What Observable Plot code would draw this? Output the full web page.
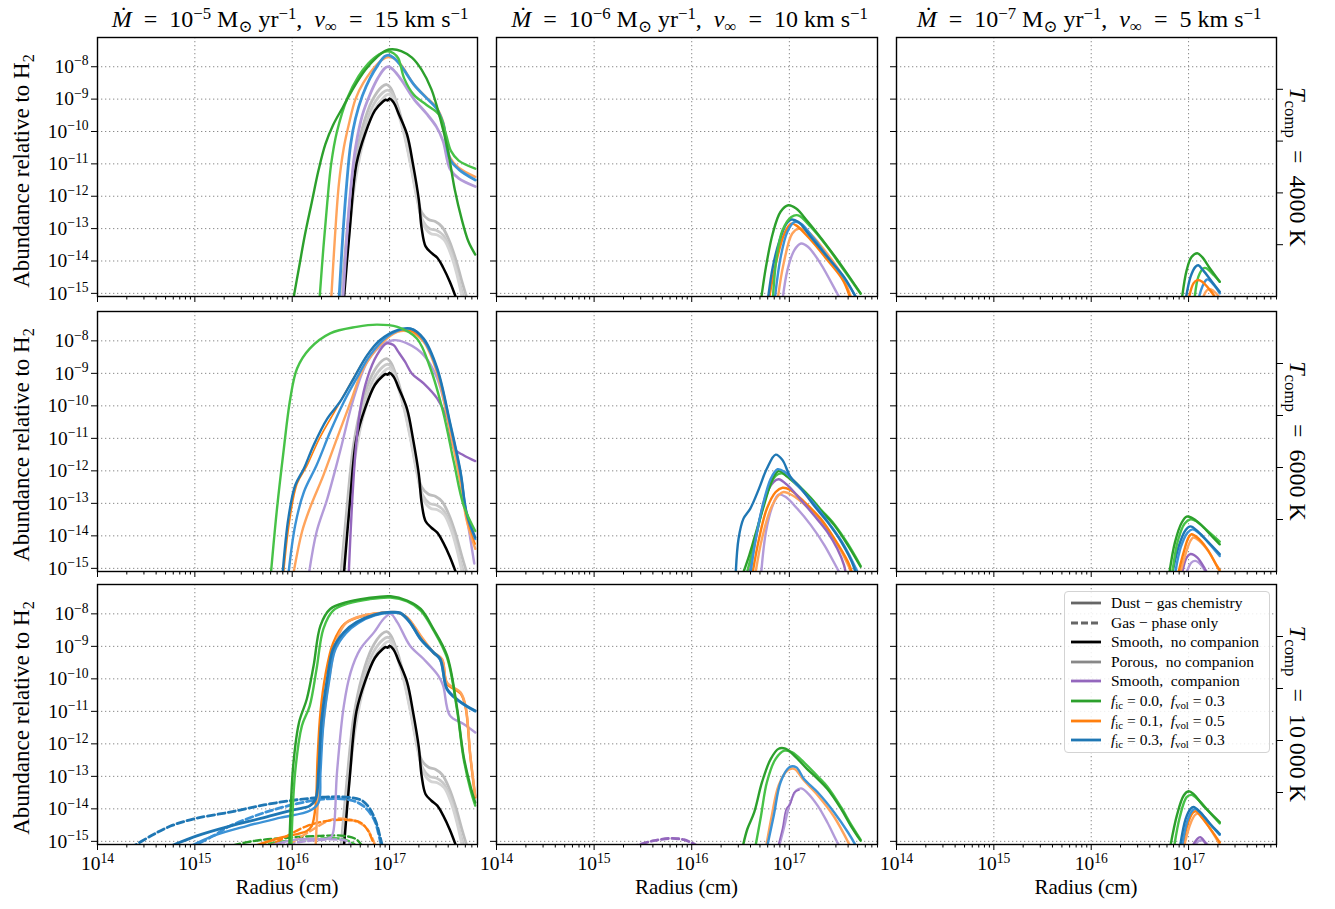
<!DOCTYPE html>
<html><head><meta charset="utf-8">
<script src="https://cdn.jsdelivr.net/npm/d3@7"></script>
<script src="https://cdn.jsdelivr.net/npm/@observablehq/plot@0.6"></script>
<style>
html,body{margin:0;padding:0;background:#fff;}
#fig{position:relative;width:1335px;height:909px;overflow:hidden;font-family:"Liberation Serif","DejaVu Serif",serif;color:#000;}
#fig svg{position:absolute;overflow:visible;}
#fig svg text.tk{font-size:19.5px !important;}
#fig svg tspan.tke{font-size:13.6px !important;}
.lab{position:absolute;white-space:nowrap;line-height:1;}
.rot{transform:translate(-50%,-50%) rotate(-90deg);}
.rotr{transform:translate(-50%,-50%) rotate(90deg);}
.ctr{transform:translate(-50%,-50%);}
sup,sub{font-size:70%;line-height:0;position:relative;vertical-align:baseline;}
sup{top:-0.5em;} sub{top:0.3em;}
#legend{position:absolute;left:1064px;top:591px;width:204px;height:160px;border:1px solid #d3d3d3;border-radius:4px;background:rgba(255,255,255,0.85);font-size:15.5px;z-index:5;}
#legend .row{position:absolute;left:0;height:18px;line-height:18px;}
#legend svg{position:absolute;left:5px;top:0;}
#legend span{position:absolute;left:46px;top:0;white-space:nowrap;}
</style></head><body><div id="fig"></div><script>
// ---------- data: [log10 radius (cm), log10 abundance] ----------
const xMajor = [1e14, 1e15, 1e16, 1e17];
const yMajor = [1e-8, 1e-9, 1e-10, 1e-11, 1e-12, 1e-13, 1e-14, 1e-15];
const colTitles = [["5","15"],["6","10"],["7","5"]];
const rowTemps = ["4000", "6000", "10&thinsp;000"];

// no-companion models (identical in each row of column 1)
const black = [[16.53,-15.2],[16.59,-13.06],[16.66,-11.0],[16.75,-10.06],[16.85,-9.35],[16.93,-9.08],[16.96,-9.02],[16.98,-9.04],[17.0,-8.99],[17.04,-9.1],[17.10,-9.5],[17.18,-10.1],[17.24,-11.0],[17.30,-12.1],[17.33,-13.0],[17.37,-13.55],[17.43,-13.75],[17.49,-13.9],[17.55,-14.2],[17.62,-14.65],[17.69,-15.2]];
const grey1 = [[16.50,-15.2],[16.56,-13.2],[16.63,-11.2],[16.72,-9.9],[16.82,-9.05],[16.92,-8.62],[16.97,-8.55],[17.01,-8.65],[17.06,-9.0],[17.13,-9.7],[17.20,-10.7],[17.27,-11.8],[17.33,-12.5],[17.40,-12.72],[17.47,-12.78],[17.54,-12.95],[17.61,-13.35],[17.68,-13.95],[17.74,-14.6],[17.80,-15.2]];
const grey2 = [[16.51,-15.2],[16.57,-13.3],[16.64,-11.4],[16.73,-10.05],[16.83,-9.2],[16.93,-8.8],[16.98,-8.72],[17.02,-8.8],[17.07,-9.2],[17.14,-9.9],[17.21,-10.9],[17.28,-12.0],[17.34,-12.75],[17.41,-13.0],[17.48,-13.05],[17.55,-13.2],[17.62,-13.6],[17.68,-14.2],[17.73,-14.8],[17.77,-15.2]];
const grey3 = [[16.52,-15.2],[16.58,-13.3],[16.65,-11.5],[16.74,-10.2],[16.84,-9.35],[16.94,-8.95],[16.99,-8.85],[17.03,-8.95],[17.08,-9.35],[17.15,-10.1],[17.22,-11.1],[17.29,-12.2],[17.35,-12.9],[17.42,-13.15],[17.49,-13.2],[17.56,-13.35],[17.63,-13.8],[17.69,-14.4],[17.75,-15.2]];

// row 1 (T = 4000 K)
const a11_gD = [[16.01,-15.2],[16.07,-14.2],[16.13,-13.2],[16.20,-12.2],[16.27,-11.2],[16.34,-10.4],[16.42,-9.8],[16.52,-9.25],[16.63,-8.65],[16.75,-8.1],[16.87,-7.7],[16.96,-7.5],[17.03,-7.46],[17.12,-7.52],[17.23,-7.72],[17.33,-8.1],[17.43,-8.7],[17.52,-9.6],[17.60,-10.6],[17.67,-11.8],[17.74,-12.7],[17.81,-13.4],[17.88,-13.8]];
const a11_gL = [[16.28,-15.2],[16.32,-13.6],[16.36,-12.2],[16.40,-11.0],[16.46,-10.0],[16.57,-8.94],[16.68,-8.3],[16.78,-7.9],[16.89,-7.62],[16.98,-7.52],[17.04,-7.58],[17.09,-7.74],[17.15,-8.36],[17.25,-8.87],[17.38,-9.18],[17.51,-9.49],[17.58,-10.1],[17.63,-10.6],[17.71,-10.9],[17.88,-11.15]];
const a11_oL = [[16.40,-15.2],[16.44,-13.2],[16.48,-11.6],[16.53,-10.5],[16.58,-9.8],[16.65,-9.0],[16.73,-8.5],[16.88,-7.9],[16.96,-7.72],[17.0,-7.7],[17.05,-7.75],[17.12,-7.95],[17.25,-8.55],[17.38,-8.95],[17.48,-9.25],[17.55,-9.7],[17.62,-10.8],[17.71,-11.12],[17.88,-11.4]];
const a11_bL = [[16.48,-15.2],[16.52,-13.2],[16.56,-11.6],[16.60,-10.4],[16.65,-9.6],[16.72,-8.9],[16.80,-8.35],[16.88,-7.95],[16.95,-7.68],[16.99,-7.64],[17.04,-7.72],[17.12,-7.98],[17.25,-8.55],[17.38,-8.97],[17.48,-9.28],[17.55,-9.75],[17.62,-10.85],[17.71,-11.17],[17.88,-11.5]];
const a11_pL = [[16.52,-15.2],[16.56,-13.3],[16.60,-11.8],[16.65,-10.5],[16.72,-9.5],[16.80,-8.85],[16.88,-8.35],[16.95,-8.05],[16.99,-8.0],[17.04,-8.1],[17.12,-8.4],[17.25,-9.0],[17.38,-9.45],[17.48,-9.85],[17.55,-10.3],[17.62,-11.15],[17.71,-11.45],[17.88,-11.7]];

const a12_gD = [[16.71,-15.2],[16.76,-14.19],[16.83,-13.15],[16.91,-12.48],[16.99,-12.28],[17.07,-12.38],[17.19,-12.79],[17.39,-13.55],[17.56,-14.25],[17.73,-15.0]];
const a12_gL = [[16.83,-15.2],[16.87,-13.88],[16.93,-13.05],[17.02,-12.64],[17.09,-12.59],[17.22,-12.95],[17.39,-13.57],[17.56,-14.29],[17.73,-15.01]];
const a12_bD = [[16.78,-15.2],[16.83,-14.19],[16.90,-13.36],[16.97,-12.85],[17.02,-12.72],[17.09,-12.79],[17.22,-13.26],[17.39,-13.88],[17.56,-14.49],[17.68,-15.11]];
const a12_bL = [[16.85,-15.2],[16.91,-13.9],[16.98,-13.1],[17.05,-12.8],[17.12,-12.85],[17.25,-13.3],[17.40,-13.9],[17.56,-14.52],[17.69,-15.15]];
const a12_oD = [[16.79,-15.2],[16.86,-14.1],[16.95,-13.15],[17.02,-12.85],[17.07,-12.9],[17.22,-13.35],[17.39,-13.97],[17.55,-14.6],[17.63,-15.2]];
const a12_oL = [[16.88,-15.2],[16.94,-14.1],[17.03,-13.15],[17.10,-13.0],[17.19,-13.1],[17.36,-13.67],[17.53,-14.39],[17.63,-15.1]];
const a12_pL = [[16.93,-15.2],[16.98,-14.29],[17.05,-13.67],[17.12,-13.46],[17.19,-13.56],[17.32,-14.08],[17.51,-15.11],[17.53,-15.2]];

const a13_gD = [[16.93,-15.2],[16.98,-14.29],[17.03,-13.88],[17.09,-13.76],[17.14,-13.88],[17.22,-14.23],[17.32,-14.64]];
const a13_bD = [[16.97,-15.2],[17.02,-14.49],[17.07,-14.18],[17.10,-14.13],[17.15,-14.29],[17.24,-14.64],[17.32,-14.95]];
const a13_oD = [[17.0,-15.2],[17.05,-14.69],[17.09,-14.59],[17.14,-14.64],[17.22,-14.9],[17.29,-15.2]];
const a13_gL = [[17.06,-15.2],[17.10,-14.49],[17.15,-14.23],[17.18,-14.22],[17.26,-14.44],[17.32,-14.64]];
const a13_bL = [[17.10,-15.2],[17.14,-14.8],[17.19,-14.57],[17.26,-14.74],[17.32,-15.0]];
const a13_oL = [[17.14,-15.2],[17.19,-14.9],[17.23,-14.88],[17.31,-15.1],[17.32,-15.2]];

// row 2 (T = 6000 K)
const a21_gL = [[15.78,-15.2],[15.84,-13.27],[15.91,-11.42],[15.98,-9.78],[16.05,-8.85],[16.18,-8.24],[16.39,-7.77],[16.66,-7.57],[16.87,-7.5],[17.08,-7.57],[17.28,-7.93],[17.42,-8.85],[17.55,-10.19],[17.66,-11.73],[17.76,-13.06],[17.88,-13.85]];
const a21_bD = [[15.90,-15.2],[15.96,-13.47],[16.03,-12.45],[16.12,-11.93],[16.22,-11.21],[16.36,-10.39],[16.49,-9.88],[16.63,-9.16],[16.77,-8.44],[16.90,-7.98],[17.08,-7.67],[17.21,-7.62],[17.35,-7.93],[17.49,-8.85],[17.62,-10.5],[17.73,-12.04],[17.79,-13.27],[17.88,-14.05]];
const a21_bL = [[15.96,-15.2],[16.03,-13.68],[16.12,-12.65],[16.25,-11.83],[16.39,-10.8],[16.53,-9.88],[16.66,-9.16],[16.80,-8.44],[16.97,-7.88],[17.14,-7.64],[17.25,-7.66],[17.35,-7.97],[17.49,-8.9],[17.62,-10.55],[17.73,-12.1],[17.79,-13.3],[17.88,-14.1]];
const a21_oD = [[15.91,-15.2],[15.97,-13.6],[16.05,-12.4],[16.15,-11.85],[16.28,-11.0],[16.45,-10.1],[16.60,-9.3],[16.77,-8.45],[16.92,-7.95],[17.08,-7.7],[17.21,-7.68],[17.35,-8.0],[17.49,-8.95],[17.62,-10.6],[17.73,-12.2],[17.79,-13.4],[17.88,-14.25]];
const a21_oL = [[16.01,-15.2],[16.10,-13.88],[16.18,-13.16],[16.32,-12.14],[16.46,-11.0],[16.60,-9.88],[16.73,-8.85],[16.90,-8.13],[17.08,-7.72],[17.21,-7.72],[17.35,-8.03],[17.49,-9.0],[17.62,-10.75],[17.73,-12.4],[17.79,-13.5],[17.88,-14.4]];
const a21_pL = [[16.17,-15.2],[16.25,-13.88],[16.36,-12.86],[16.49,-11.42],[16.63,-9.78],[16.77,-8.65],[16.90,-8.18],[17.04,-7.98],[17.18,-8.08],[17.35,-8.44],[17.49,-9.16],[17.62,-10.7],[17.76,-12.86],[17.87,-14.85]];
const a21_pD = [[16.58,-15.2],[16.61,-13.27],[16.65,-11.42],[16.70,-10.08],[16.77,-9.16],[16.87,-8.44],[16.97,-8.08],[17.04,-8.13],[17.09,-8.34],[17.16,-8.65],[17.23,-9.01],[17.35,-9.31],[17.49,-9.78],[17.59,-10.39],[17.66,-11.32],[17.76,-11.52],[17.88,-11.7]];

const a22_bD = [[16.45,-15.2],[16.48,-14.08],[16.53,-13.47],[16.60,-13.16],[16.69,-12.54],[16.77,-11.93],[16.86,-11.5],[16.93,-11.67],[17.01,-12.18],[17.12,-12.54],[17.25,-13.06],[17.39,-13.57],[17.53,-14.18],[17.66,-14.95],[17.68,-15.2]];
const a22_bL = [[16.60,-15.2],[16.65,-14.18],[16.72,-13.16],[16.81,-12.24],[16.88,-11.95],[16.95,-12.03],[17.08,-12.44],[17.25,-13.0],[17.42,-13.67],[17.56,-14.29],[17.69,-15.06],[17.71,-15.2]];
const a22_gD = [[16.52,-15.2],[16.59,-14.59],[16.65,-13.98],[16.74,-13.06],[16.83,-12.24],[16.89,-12.01],[16.98,-12.18],[17.08,-12.44],[17.22,-12.85],[17.32,-13.21],[17.46,-13.67],[17.60,-14.29],[17.73,-14.95]];
const a22_gL = [[16.56,-15.2],[16.62,-14.5],[16.69,-13.6],[16.77,-12.7],[16.86,-12.15],[16.93,-12.08],[17.0,-12.2],[17.10,-12.46],[17.22,-12.83],[17.32,-13.18],[17.46,-13.64],[17.60,-14.25],[17.73,-14.92]];
const a22_pD = [[16.59,-15.2],[16.67,-13.88],[16.76,-12.75],[16.84,-12.34],[16.89,-12.26],[16.98,-12.44],[17.12,-12.9],[17.25,-13.36],[17.39,-13.88],[17.49,-14.39],[17.56,-14.9],[17.58,-15.2]];
const a22_oD = [[16.62,-15.2],[16.69,-14.08],[16.77,-13.16],[16.86,-12.65],[16.93,-12.52],[17.01,-12.59],[17.15,-12.95],[17.32,-13.47],[17.46,-14.08],[17.60,-14.8],[17.65,-15.2]];
const a22_oL = [[16.65,-15.2],[16.72,-14.08],[16.81,-13.16],[16.89,-12.75],[16.94,-12.65],[17.03,-12.75],[17.18,-13.1],[17.34,-13.6],[17.48,-14.2],[17.61,-14.95],[17.64,-15.2]];
const a22_pL = [[16.71,-15.2],[16.76,-13.88],[16.83,-13.06],[16.89,-12.73],[16.96,-12.8],[17.08,-13.16],[17.22,-13.67],[17.36,-14.29],[17.51,-15.11],[17.53,-15.2]];

const a23_gD = [[16.80,-15.2],[16.86,-14.2],[16.93,-13.59],[16.98,-13.41],[17.03,-13.44],[17.12,-13.64],[17.22,-13.95],[17.32,-14.26]];
const a23_gL = [[16.83,-15.2],[16.89,-14.15],[16.96,-13.62],[17.02,-13.49],[17.08,-13.55],[17.17,-13.78],[17.32,-14.18]];
const a23_bD = [[16.83,-15.2],[16.90,-14.31],[16.97,-13.82],[17.02,-13.71],[17.09,-13.85],[17.19,-14.15],[17.32,-14.56]];
const a23_bL = [[16.86,-15.2],[16.92,-14.35],[16.99,-13.9],[17.04,-13.8],[17.10,-13.9],[17.20,-14.2],[17.32,-14.62]];
const a23_oD = [[16.89,-15.2],[16.95,-14.5],[17.0,-14.05],[17.03,-13.95],[17.09,-14.05],[17.19,-14.4],[17.29,-14.92],[17.32,-15.05]];
const a23_oL = [[16.91,-15.2],[16.97,-14.55],[17.02,-14.15],[17.05,-14.05],[17.11,-14.15],[17.21,-14.5],[17.32,-15.1]];
const a23_pD = [[16.93,-15.2],[16.98,-14.67],[17.02,-14.56],[17.09,-14.67],[17.17,-15.03],[17.20,-15.2]];
const a23_pL = [[16.97,-15.2],[17.03,-14.82],[17.07,-14.77],[17.13,-14.9],[17.19,-15.2]];

// row 3 (T = 10 000 K)
const a31_gD = [[15.97,-15.2],[16.01,-12.68],[16.07,-11.34],[16.15,-10.62],[16.22,-9.59],[16.29,-8.36],[16.39,-7.85],[16.56,-7.64],[16.77,-7.52],[17.01,-7.46],[17.18,-7.59],[17.32,-7.85],[17.45,-8.46],[17.59,-9.28],[17.69,-10.83],[17.76,-12.37],[17.83,-13.29],[17.88,-13.81]];
const a31_gL = [[15.99,-15.2],[16.03,-12.88],[16.10,-11.44],[16.18,-10.83],[16.25,-9.7],[16.32,-8.46],[16.42,-7.9],[16.58,-7.68],[16.79,-7.55],[17.01,-7.5],[17.18,-7.62],[17.32,-7.9],[17.45,-8.5],[17.59,-9.35],[17.69,-10.9],[17.76,-12.45],[17.83,-13.4],[17.88,-13.9]];
const a31_oL = [[16.24,-15.2],[16.28,-12.88],[16.32,-11.34],[16.39,-9.8],[16.46,-8.77],[16.56,-8.26],[16.73,-8.05],[16.90,-7.97],[17.08,-7.95],[17.18,-8.1],[17.32,-8.67],[17.45,-9.18],[17.54,-9.39],[17.59,-10.11],[17.73,-10.42],[17.78,-10.83],[17.83,-12.37],[17.88,-13.6]];
const a31_oD = [[15.55,-15.2],[15.88,-14.89],[16.15,-14.68],[16.20,-14.53],[16.24,-13.91],[16.26,-12.47],[16.29,-11.03],[16.34,-9.9],[16.42,-8.9],[16.54,-8.3],[16.73,-8.06],[16.90,-7.98],[17.08,-7.96],[17.18,-8.12],[17.32,-8.7],[17.45,-9.2],[17.54,-9.42],[17.59,-10.15],[17.73,-10.45],[17.78,-10.87],[17.83,-12.4],[17.88,-13.65]];
const a31_bD = [[14.71,-15.2],[15.02,-14.83],[15.36,-14.53],[15.71,-14.27],[16.01,-14.03],[16.18,-13.91],[16.24,-13.7],[16.27,-12.88],[16.30,-11.34],[16.36,-10.0],[16.42,-9.08],[16.53,-8.57],[16.66,-8.26],[16.84,-8.03],[17.01,-7.95],[17.11,-7.97],[17.21,-8.26],[17.32,-8.77],[17.45,-9.18],[17.52,-9.39],[17.59,-10.31],[17.69,-10.62],[17.79,-10.83],[17.88,-10.98]];
const a31_bL = [[14.92,-15.2],[15.19,-14.83],[15.53,-14.53],[15.88,-14.27],[16.18,-14.06],[16.27,-13.81],[16.29,-12.9],[16.32,-11.4],[16.38,-10.05],[16.44,-9.12],[16.55,-8.6],[16.68,-8.28],[16.85,-8.05],[17.01,-7.97],[17.11,-7.99],[17.21,-8.28],[17.32,-8.8],[17.45,-9.2],[17.52,-9.42],[17.59,-10.33],[17.69,-10.64],[17.79,-10.85],[17.88,-11.0]];
const a31_pL = [[15.69,-15.2],[16.05,-14.94],[16.39,-14.89],[16.42,-14.73],[16.46,-12.88],[16.53,-10.83],[16.60,-9.8],[16.70,-9.08],[16.84,-8.57],[16.94,-8.15],[17.01,-8.0],[17.08,-8.26],[17.21,-8.98],[17.35,-9.39],[17.50,-9.9],[17.55,-10.21],[17.62,-11.13],[17.76,-11.39],[17.88,-11.65]];
const a31_bD_gas = [[14.34,-15.2],[14.55,-14.83],[14.75,-14.53],[15.0,-14.3],[15.36,-14.1],[15.71,-13.88],[16.05,-13.72],[16.39,-13.63],[16.60,-13.65],[16.72,-13.75],[16.80,-14.01],[16.86,-14.4],[16.90,-14.83],[16.93,-15.2]];
const a31_bL_gas = [[14.95,-15.2],[15.19,-14.83],[15.36,-14.53],[15.71,-14.12],[16.05,-13.84],[16.32,-13.7],[16.60,-13.73],[16.73,-13.91],[16.84,-14.32],[16.90,-14.94],[16.92,-15.2]];
const a31_oD_gas = [[15.74,-15.2],[15.95,-14.83],[16.15,-14.53],[16.36,-14.37],[16.56,-14.34],[16.70,-14.42],[16.78,-14.68],[16.85,-15.2]];
const a31_oL_gas = [[15.91,-15.2],[16.15,-14.75],[16.42,-14.32],[16.62,-14.35],[16.75,-14.55],[16.83,-14.95],[16.86,-15.2]];
const a31_gD_gas = [[15.29,-15.2],[15.60,-14.99],[15.95,-14.89],[16.29,-14.83],[16.53,-14.83],[16.66,-14.94],[16.73,-15.2]];
const a31_gL_gas = [[15.55,-15.2],[15.90,-15.0],[16.25,-14.92],[16.50,-14.92],[16.62,-15.05],[16.68,-15.2]];
const a31_pL_gas = [[15.74,-15.2],[16.08,-15.02],[16.42,-14.94],[16.56,-14.99],[16.63,-15.2]];

const a32_gD = [[16.52,-15.2],[16.57,-14.62],[16.64,-14.11],[16.72,-13.18],[16.81,-12.46],[16.89,-12.15],[16.96,-12.15],[17.05,-12.36],[17.18,-12.77],[17.29,-13.08],[17.39,-13.39],[17.53,-14.0],[17.63,-14.52],[17.73,-14.98]];
const a32_gL = [[16.65,-15.2],[16.71,-14.21],[16.77,-13.18],[16.86,-12.46],[16.95,-12.21],[17.03,-12.26],[17.15,-12.57],[17.29,-13.0],[17.39,-13.32],[17.53,-13.95],[17.63,-14.47],[17.73,-14.95]];
const a32_bL = [[16.77,-15.2],[16.84,-14.21],[16.91,-13.18],[17.0,-12.72],[17.07,-12.72],[17.15,-13.08],[17.29,-13.49],[17.46,-14.11],[17.60,-14.72],[17.68,-15.13],[17.69,-15.2]];
const a32_oL = [[16.76,-15.2],[16.82,-14.21],[16.89,-13.28],[16.98,-12.82],[17.05,-12.77],[17.15,-13.13],[17.29,-13.58],[17.46,-14.25],[17.63,-15.19]];
const a32_pL = [[16.89,-15.2],[16.95,-14.52],[16.98,-14.11],[17.01,-13.8],[17.07,-13.44],[17.12,-13.37],[17.18,-13.49],[17.29,-13.9],[17.39,-14.42],[17.51,-15.13],[17.53,-15.2]];
const a32_pD = [[16.88,-15.2],[16.93,-14.6],[16.97,-14.0],[17.01,-13.85],[17.05,-13.5],[17.10,-13.42]];
const a32_pD_gas = [[15.38,-15.2],[15.44,-15.12],[15.61,-14.98],[15.78,-14.91],[15.92,-14.95],[16.05,-15.13],[16.08,-15.2]];

const a33_gD = [[16.81,-15.2],[16.88,-14.2],[16.95,-13.59],[17.0,-13.46],[17.05,-13.54],[17.15,-13.9],[17.32,-14.41]];
const a33_gL = [[16.85,-15.2],[16.91,-14.25],[16.98,-13.64],[17.03,-13.57],[17.10,-13.72],[17.20,-14.05],[17.32,-14.45]];
const a33_bD = [[16.91,-15.2],[16.97,-14.31],[17.02,-14.0],[17.05,-13.94],[17.12,-14.1],[17.22,-14.46],[17.32,-14.77]];
const a33_bL = [[16.93,-15.2],[16.99,-14.35],[17.04,-14.05],[17.07,-14.0],[17.13,-14.15],[17.23,-14.5],[17.32,-14.8]];
const a33_oD = [[16.93,-15.2],[17.0,-14.38],[17.05,-14.1],[17.08,-14.08],[17.12,-14.2],[17.22,-14.6],[17.32,-15.03]];
const a33_oL = [[16.95,-15.2],[17.02,-14.45],[17.07,-14.18],[17.10,-14.15],[17.15,-14.3],[17.25,-14.75],[17.32,-15.1]];
const a33_pD = [[17.03,-15.2],[17.09,-14.92],[17.12,-14.87],[17.15,-14.95],[17.20,-15.2]];
const a33_pL = [[17.05,-15.2],[17.10,-15.0],[17.14,-14.97],[17.18,-15.05],[17.22,-15.2]];

// ---------- styles ----------
const C = {k:"#000000", g1:"#bdbdbd", g2:"#c9c9c9", g3:"#d4d4d4",
  gD:"#2ca02c", gL:"#47c247", oD:"#ff7f0e", oL:"#ffa45c", bD:"#1f77b4", bL:"#3b92d6", pD:"#9467bd", pL:"#b39bd9"};
const L = (data, color, dash=false, w=2.4) => ({data, color, dash, w});
const noComp = [L(grey1,C.g1,false,2.8), L(grey2,C.g2,false,2.8), L(grey3,C.g3,false,2.8), L(black,C.k,false,2.5)];
const panelSeries = [
  [ [...noComp, L(a11_pL,C.pL,false,2.8), L(a11_oL,C.oL), L(a11_bL,C.bL,false,2.8), L(a11_gL,C.gL), L(a11_gD,C.gD)],
    [L(a12_pL,C.pL), L(a12_oL,C.oL), L(a12_oD,C.oD), L(a12_bL,C.bL), L(a12_bD,C.bD), L(a12_gL,C.gL), L(a12_gD,C.gD)],
    [L(a13_oL,C.oL), L(a13_bL,C.bL), L(a13_gL,C.gL), L(a13_oD,C.oD), L(a13_bD,C.bD), L(a13_gD,C.gD)] ],
  [ [...noComp, L(a21_pL,C.pL), L(a21_pD,C.pD), L(a21_oL,C.oL), L(a21_oD,C.oD,false,1.6), L(a21_bL,C.bL), L(a21_bD,C.bD), L(a21_gL,C.gL)],
    [L(a22_pL,C.pL), L(a22_oL,C.oL), L(a22_oD,C.oD), L(a22_pD,C.pD), L(a22_gL,C.gL), L(a22_gD,C.gD), L(a22_bL,C.bL), L(a22_bD,C.bD)],
    [L(a23_pL,C.pL), L(a23_pD,C.pD), L(a23_oL,C.oL), L(a23_oD,C.oD), L(a23_bL,C.bL), L(a23_bD,C.bD), L(a23_gL,C.gL), L(a23_gD,C.gD)] ],
  [ [...noComp, L(a31_gL_gas,C.gL,true), L(a31_gD_gas,C.gD,true), L(a31_pL_gas,C.pL,true), L(a31_oL_gas,C.oL,true), L(a31_oD_gas,C.oD,true),
      L(a31_bL_gas,C.bL,true,2.8), L(a31_bD_gas,C.bD,true,2.8),
      L(a31_pL,C.pL), L(a31_oD,C.oD), L(a31_oL,C.oL), L(a31_bL,C.bL), L(a31_bD,C.bD,false,2.8), L(a31_gL,C.gL), L(a31_gD,C.gD)],
    [L(a32_pD_gas,C.pD,true,2.8), L(a32_pL,C.pL), L(a32_pD,C.pD,false,1.6), L(a32_oL,C.oL), L(a32_bL,C.bL), L(a32_gL,C.gL), L(a32_gD,C.gD)],
    [L(a33_pL,C.pL), L(a33_pD,C.pD), L(a33_oL,C.oL), L(a33_oD,C.oD), L(a33_bL,C.bL), L(a33_bD,C.bD), L(a33_gL,C.gL), L(a33_gD,C.gD)] ]
];

// ---------- layout ----------
const colLeft = [97, 496, 896], colW = [380, 381, 380];
const rowTop = [37, 311, 584], rowH = [259, 260, 260];
const ML = 70, MR = 24, MT = 8, MB = 42;
const X_DOMAIN = [1e14, 8e17], Y_DOMAIN = [8e-16, 8e-8];
const minorX = [];
for (let e = 14; e <= 17; e++) for (let m = 2; m <= 9; m++) { const v = m * 10 ** e; if (v <= X_DOMAIN[1]) minorX.push(v); }
const lyLo = Math.log10(Y_DOMAIN[0]), lyHi = Math.log10(Y_DOMAIN[1]);
const twinTicks = [0.2, 0.4, 0.6, 0.8].map(f => 10 ** (lyLo + f * (lyHi - lyLo)));
const fmt = d => "10^" + Math.round(Math.log10(d));
const blank = () => "";
const fig = document.getElementById("fig");
const NS = "http://www.w3.org/2000/svg";

function supify(svg) {
  svg.querySelectorAll("text").forEach(t => {
    const m = /^10\^([-\u2212]?\d+)$/.exec(t.textContent);
    if (!m) return;
    while (t.firstChild) t.removeChild(t.firstChild);
    t.setAttribute("class", "tk");
    t.setAttribute("font-size", "19.5");
    const a = document.createElementNS(NS, "tspan");
    a.setAttribute("font-size", "19.5"); a.textContent = "10"; t.appendChild(a);
    const b = document.createElementNS(NS, "tspan");
    b.setAttribute("class", "tke");
    b.setAttribute("dy", "-7.5"); b.setAttribute("font-size", "13.6");
    b.textContent = m[1].replace("-", "\u2212"); t.appendChild(b);
  });
}

for (let r = 0; r < 3; r++) for (let c = 0; c < 3; c++) {
  const marks = [
    Plot.gridX(xMajor.slice(1), {stroke: "#8a8a8a", strokeOpacity: 1, strokeWidth: 1, strokeDasharray: "1.3,2.7"}),
    Plot.gridY(yMajor, {stroke: "#8a8a8a", strokeOpacity: 1, strokeWidth: 1, strokeDasharray: "1.3,2.7"})
  ];
  for (const s of panelSeries[r][c]) {
    marks.push(Plot.line(s.data, {x: d => 10 ** d[0], y: d => 10 ** d[1], stroke: s.color, strokeWidth: s.w,
      strokeDasharray: s.dash ? "7,3.5" : null, curve: "catmull-rom", clip: true}));
  }
  marks.push(Plot.frame({stroke: "#000", strokeWidth: 1.4}));
  marks.push(Plot.axisX({ticks: xMajor, tickSize: 6, tickPadding: 6, tickFormat: r === 2 ? fmt : blank, label: null, fontSize: 19.5}));
  marks.push(Plot.axisX({ticks: minorX, tickSize: 3.5, tickFormat: blank, label: null}));
  marks.push(Plot.axisY({ticks: yMajor, tickSize: 6, tickPadding: 3, tickFormat: c === 0 ? fmt : blank, label: null, fontSize: 19.5}));
  if (c === 2) marks.push(Plot.axisY({anchor: "right", ticks: twinTicks, tickSize: 6, tickFormat: blank, label: null}));
  const svg = Plot.plot({
    width: colW[c] + ML + MR, height: rowH[r] + MT + MB,
    marginLeft: ML, marginRight: MR, marginTop: MT, marginBottom: MB,
    x: {type: "log", domain: X_DOMAIN},
    y: {type: "log", domain: Y_DOMAIN},
    style: {background: "transparent", fontFamily: "'Liberation Serif','DejaVu Serif',serif", fontSize: "19.5px", overflow: "visible", color: "#000"},
    marks
  });
  supify(svg);
  svg.style.left = (colLeft[c] - ML) + "px";
  svg.style.top = (rowTop[r] - MT) + "px";
  fig.appendChild(svg);
}

// ---------- text ----------
function addLab(html, css, cls = "") {
  const d = document.createElement("div");
  d.className = "lab " + cls; d.innerHTML = html; d.style.cssText = css; fig.appendChild(d);
}
for (let c = 0; c < 3; c++) {
  const cx = colLeft[c] + colW[c] / 2 + 3;
  const [mexp, vinf] = colTitles[c];
  addLab(`<i>Ṁ</i>&ensp;=&ensp;10<sup>\u2212${mexp}</sup> M<sub>⊙</sub> yr<sup>\u22121</sup>,&ensp;<i>v</i><sub>∞</sub>&ensp;=&ensp;${vinf} km s<sup>\u22121</sup>`,
    `left:${cx}px;top:19px;font-size:24px;`, "ctr");
  addLab("Radius (cm)", `left:${cx - 3}px;top:887px;font-size:21px;`, "ctr");
}
for (let r = 0; r < 3; r++) {
  const cy = rowTop[r] + rowH[r] / 2;
  addLab("Abundance relative to H<sub>2</sub>", `left:21px;top:${cy + 4}px;font-size:23px;`, "rot");
  addLab(`<i>T</i><sub>comp</sub>&ensp;=&ensp;${rowTemps[r]} K`, `left:1298px;top:${cy}px;font-size:24px;`, "rotr");
}

// ---------- legend ----------
const legendItems = [
  ["Dust \u2212 gas chemistry", "#666", false],
  ["Gas \u2212 phase only", "#666", true],
  ["Smooth,&ensp;no companion", "#000", false],
  ["Porous,&ensp;no companion", "#888", false],
  ["Smooth,&ensp;companion", "#9467bd", false],
  ["<i>f</i><sub>ic</sub> = 0.0,&ensp;<i>f</i><sub>vol</sub> = 0.3", "#2ca02c", false],
  ["<i>f</i><sub>ic</sub> = 0.1,&ensp;<i>f</i><sub>vol</sub> = 0.5", "#ff7f0e", false],
  ["<i>f</i><sub>ic</sub> = 0.3,&ensp;<i>f</i><sub>vol</sub> = 0.3", "#1f77b4", false]
];
const leg = document.createElement("div"); leg.id = "legend"; fig.appendChild(leg);
legendItems.forEach(([txt, col, dash], i) => {
  const row = document.createElement("div"); row.className = "row";
  row.style.top = (2 + i * 19.6) + "px";
  row.innerHTML = `<svg width="32" height="18"><line x1="1" x2="31" y1="9" y2="9" stroke="${col}" stroke-width="2.8" ${dash ? 'stroke-dasharray="7,3"' : ""}/></svg><span>${txt}</span>`;
  leg.appendChild(row);
});
</script></body></html>
